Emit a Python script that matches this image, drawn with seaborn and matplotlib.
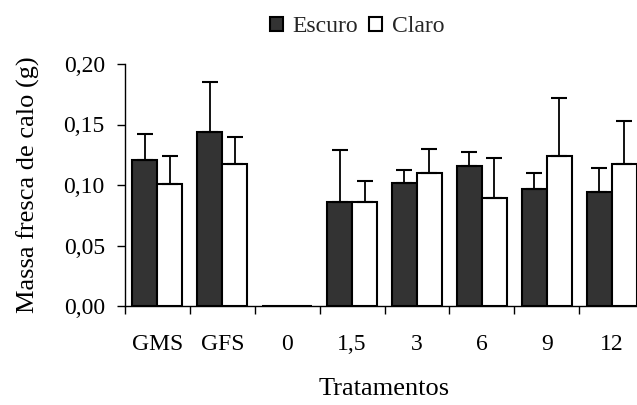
import numpy as np
import pandas as pd
import matplotlib
matplotlib.use("Agg")
import matplotlib.pyplot as plt
from matplotlib.ticker import FuncFormatter, FixedLocator
import seaborn as sns

# ---- data ----
tratamentos = ["GMS", "GFS", "0", "1,5", "3", "6", "9", "12"]
escuro_media = [0.121, 0.144, 0.0, 0.086, 0.102, 0.1155, 0.097, 0.094]
escuro_erro = [0.021, 0.041, 0.0, 0.043, 0.010, 0.0115, 0.013, 0.020]
claro_media = [0.1006, 0.117, 0.0, 0.0857, 0.110, 0.089, 0.1237, 0.117]
claro_erro = [0.023, 0.023, 0.0, 0.018, 0.020, 0.033, 0.048, 0.036]
series = ["Escuro", "Claro"]
y_ticks = [0.00, 0.05, 0.10, 0.15, 0.20]

df = pd.DataFrame({
    "Tratamento": tratamentos * 2,
    "Serie": [series[0]] * len(tratamentos) + [series[1]] * len(tratamentos),
    "Massa": escuro_media + claro_media,
})

sns.set_theme(style="ticks")
plt.rcParams["font.family"] = ["Liberation Serif", "DejaVu Serif"]

W, H = 637, 405
fig = plt.figure(figsize=(W / 100, H / 100), dpi=100)
ax = fig.add_axes([125 / W, 1 - 306 / H, 519 / W, 242 / H])

sns.barplot(data=df, x="Tratamento", y="Massa", hue="Serie",
            order=tratamentos, hue_order=series,
            palette={"Escuro": "#333333", "Claro": "#ffffff"},
            width=0.77, edgecolor="black", linewidth=1.5,
            errorbar=None, ax=ax, saturation=1)

# upward error bars
for cont, err in zip(ax.containers, [escuro_erro, claro_erro]):
    for bar, e in zip(cont, err):
        if e > 0:
            xc = bar.get_x() + bar.get_width() / 2
            h = bar.get_height()
            ax.errorbar([xc], [h], yerr=[[0], [e]], fmt="none",
                        ecolor="black", elinewidth=1.3, capsize=5.6,
                        capthick=1.5, zorder=1)

ax.set_xlim(-0.5, len(tratamentos) - 0.5)
ax.set_ylim(0, 0.20)
ax.yaxis.set_major_locator(FixedLocator(y_ticks))
ax.yaxis.set_major_formatter(FuncFormatter(lambda v, p: f"{v:.2f}".replace(".", ",")))

# group boundary ticks (major) and centred labels (minor)
ax.xaxis.set_major_locator(FixedLocator(np.arange(-0.5, len(tratamentos), 1.0)))
ax.xaxis.set_major_formatter(FuncFormatter(lambda v, p: ""))
ax.xaxis.set_minor_locator(FixedLocator(np.arange(len(tratamentos))))
ax.set_xticklabels(tratamentos, minor=True)
ax.tick_params(axis="x", which="major", direction="out", length=5.5, width=1.0, color="black")
ax.tick_params(axis="x", which="minor", length=0, pad=20, labelsize=17, labelcolor="black")
ax.tick_params(axis="y", direction="out", length=5.5, width=1.0, pad=9,
               labelsize=17, color="black", labelcolor="black")

for s in ["top", "right"]:
    ax.spines[s].set_visible(False)
for s in ["left", "bottom"]:
    ax.spines[s].set_color("black")
    ax.spines[s].set_linewidth(1.0)

ax.set_xlabel("Tratamentos", fontsize=19, color="black", labelpad=17)
ax.set_ylabel("Massa fresca de calo (g)", fontsize=19, color="black", labelpad=17)

handles, labels = ax.get_legend_handles_labels()
ax.legend(handles, labels, loc="center",
          bbox_to_anchor=(357 / W, 1 - 27 / H), bbox_transform=fig.transFigure,
          ncol=2, frameon=False, fontsize=17, handlelength=0.55, handleheight=0.55,
          handletextpad=0.4, columnspacing=0.5, borderpad=0, borderaxespad=0)

fig.savefig("out.png", dpi=100)
